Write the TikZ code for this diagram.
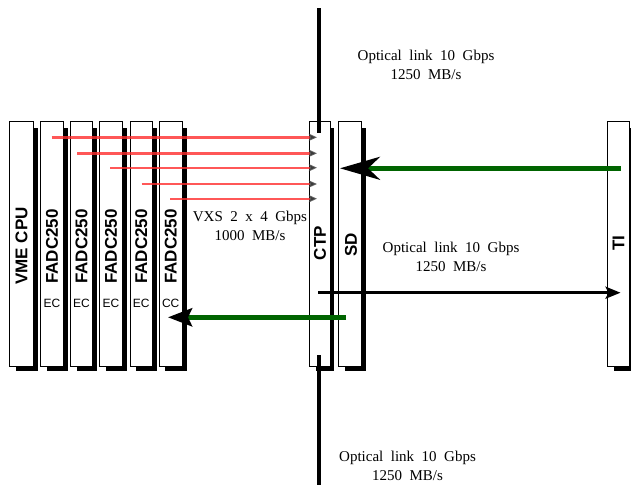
\documentclass[tikz,border=0pt]{standalone}
\usepackage{fontspec}
\setmainfont{Liberation Serif}[WordSpace=2.0]
\setsansfont{Liberation Sans}
\usetikzlibrary{arrows.meta}
\definecolor{linkgreen}{RGB}{0,100,0}
\definecolor{vxsred}{RGB}{255,45,45}
\definecolor{tipgray}{RGB}{60,60,60}
\newcommand\boardcard[5]{%
  \fill[black] (#2+6,#3+6) rectangle (#4+4,#5+5);
  \node[box, minimum width={(#4-#2)*1pt}, minimum height={(#5-#3)*1pt}] (#1) at (#2,#3) {};
}
\begin{document}
\begin{tikzpicture}[x=1pt,y=-1pt,
  box/.style={draw=black, line width=0.9pt, fill=white, inner sep=0pt, outer sep=0pt, anchor=north west},
  boardname/.style={font=\sffamily\bfseries\fontsize{17}{17}\selectfont, rotate=90, inner sep=0pt},
  slotname/.style={font=\sffamily\fontsize{12}{12}\selectfont, inner sep=0pt},
  linklabel/.style={font=\fontsize{15}{19}\selectfont, align=center, inner sep=0pt},
  fibre/.style={line width=4pt, draw=black},
  vxs/.style={draw=vxsred, draw opacity=0.8, line width=2.4pt, -{Stealth[length=8pt,width=7pt,inset=1pt,color=tipgray]}},
  greenlink/.style={draw=linkgreen, line width=4.5pt},
  blacklink/.style={draw=black, line width=2.5pt, -{Stealth[length=15pt,width=12pt,inset=3pt]}}
]
\useasboundingbox (0,0) rectangle (631,485);

% boards
\boardcard{vme}{9.5}{121.5}{33.5}{366}
\boardcard{fa}{40.5}{121.5}{63.5}{366}
\boardcard{fb}{70.5}{121.5}{92.5}{366}
\boardcard{fc}{99.5}{121.5}{122.5}{366}
\boardcard{fd}{130}{121.5}{152.5}{366}
\boardcard{fe}{159}{121.5}{182.5}{366}
\boardcard{ctp}{309.5}{121.5}{330}{366}
\boardcard{sd}{338.5}{121.5}{361.5}{366}
\boardcard{ti}{607.5}{121.5}{629.3}{366}

% optical fibre (vertical)
\coordinate (ftop) at (319,8);
\coordinate (fbot) at (319,485);
\draw[fibre] (ftop) -- (ftop |- 0,133);
\draw[fibre] (fbot |- 0,355) -- (fbot);

% board labels
\node[boardname] (tvme) at (21.5,246) {VME CPU};
\node[boardname] (tfa) at (52,246.5) {FADC250};
\node[boardname] (tfb) at (81.5,246.5) {FADC250};
\node[boardname] (tfc) at (111,246.5) {FADC250};
\node[boardname] (tfd) at (141.3,246.5) {FADC250};
\node[boardname] (tfe) at (170.7,246.5) {FADC250};
\node[boardname] (tctp) at (320,243) {CTP};
\node[boardname] (tsd) at (351,245) {SD};
\node[boardname] (tti) at (618.5,243) {TI};

\node[slotname] (sa) at (52,303) {EC};
\node[slotname] (sb) at (81.5,303) {EC};
\node[slotname] (sc) at (111,303) {EC};
\node[slotname] (sdd) at (141.3,303) {EC};
\node[slotname] (se) at (170.7,303) {CC};

% VXS links
\coordinate (r1) at (51.7,137.3);
\coordinate (r2) at (77.3,153.3);
\coordinate (r3) at (110,167.7);
\coordinate (r4) at (141.7,184);
\coordinate (r5) at (170,198.7);
\foreach \r in {r1,r2,r3,r4,r5}
  \draw[vxs] (\r) -- ([xshift=7.5pt]\r -| ctp.west);

% optical links
\coordinate (g1) at (620.5,168.3);
\draw[greenlink, -{Stealth[length=40pt,width=23pt,inset=12pt,color=black]}] (g1) -- ([xshift=1.5pt]g1 -| sd.west);
\coordinate (g2) at (346,317.3);
\draw[greenlink, -{Stealth[length=24pt,width=18pt,inset=4pt,color=black]}] (g2) -- ([xshift=9pt]g2 -| fe.west);
\coordinate (b1) at (318,292.7);
\draw[blacklink] (b1) -- ([xshift=13pt]b1 -| ti.west);

% link labels
\node[linklabel] (l1) at (426,65) {Optical link 10 Gbps\\1250 MB/s};
\node[linklabel] (l2) at (451,257.3) {Optical link 10 Gbps\\1250 MB/s};
\node[linklabel] (l3) at (407.5,466) {Optical link 10 Gbps\\1250 MB/s};
\node[linklabel] (l4) at (250,226) {VXS 2 x 4 Gbps\\1000 MB/s};
\end{tikzpicture}
\end{document}
